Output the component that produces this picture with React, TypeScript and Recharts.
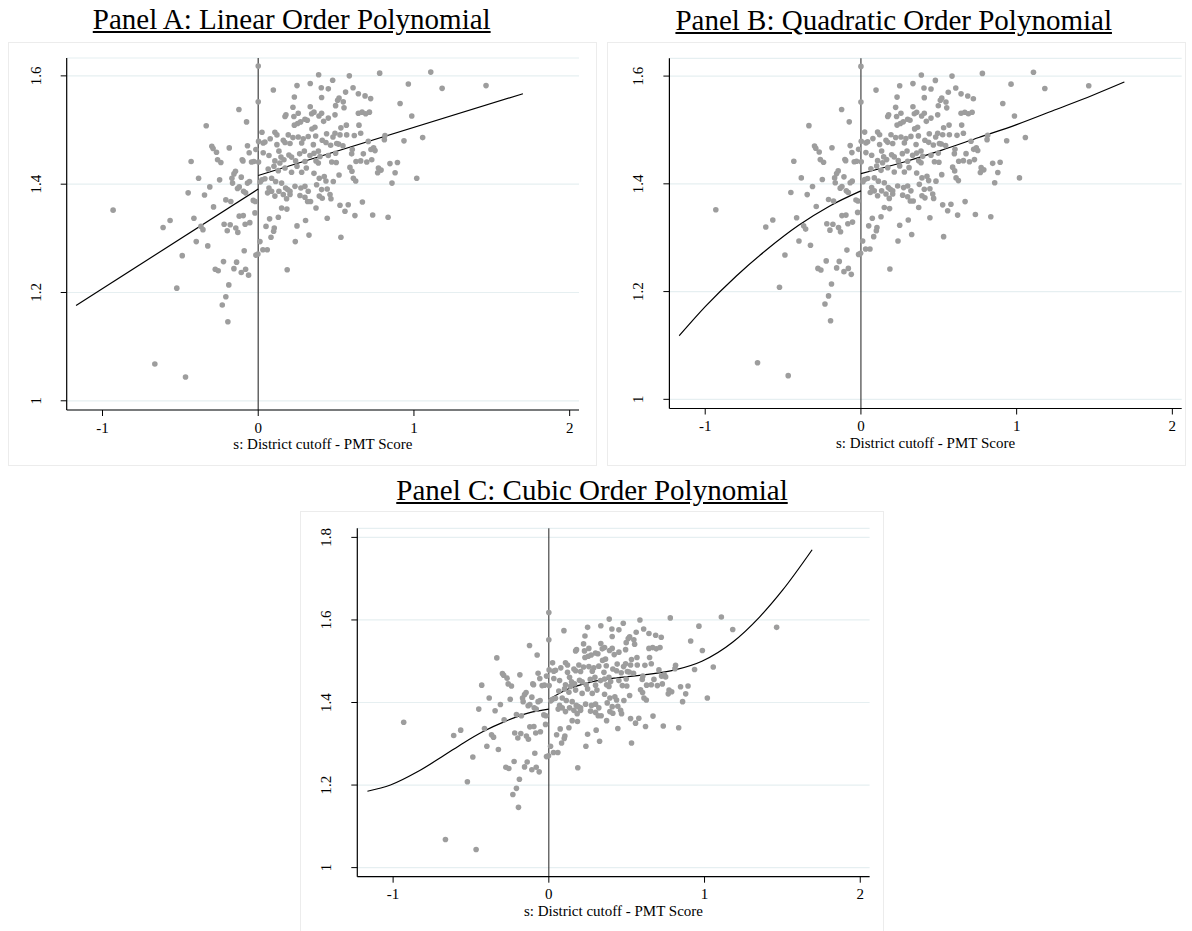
import React from 'react';
import { ComposedChart, Scatter, Line, XAxis, YAxis, CartesianGrid, ReferenceLine } from 'recharts';

type Pt = [number, number];

const FONT = "'Liberation Serif', 'Times New Roman', serif";

// titres et graduations
const panelTitles = [
  'Panel A: Linear Order Polynomial',
  'Panel B: Quadratic Order Polynomial',
  'Panel C: Cubic Order Polynomial',
];
const xTitle = 's: District cutoff - PMT Score';
const xTicks = [-1, 0, 1, 2];
const yTicksAB = [1, 1.2, 1.4, 1.6];
const yTicksC = [1, 1.2, 1.4, 1.6, 1.8];

// nuage de points, à gauche du seuil (s < 0)
const dotsLeft: Pt[] = [
  [-0.124, 1.538], [-0.075, 1.515], [-0.334, 1.508], [-0.298, 1.47], [-0.29, 1.466],
  [-0.186, 1.467], [-0.069, 1.471], [-0.268, 1.459], [-0.058, 1.458], [-0.015, 1.464],
  [-0.431, 1.442], [-0.261, 1.445], [-0.24, 1.44], [-0.103, 1.445], [-0.098, 1.443],
  [-0.043, 1.441], [-0.028, 1.442], [-0.146, 1.424], [-0.156, 1.419], [-0.383, 1.411],
  [-0.248, 1.408], [-0.169, 1.411], [-0.165, 1.402], [-0.109, 1.413], [-0.069, 1.402],
  [-0.056, 1.405], [-0.133, 1.392], [-0.122, 1.395], [-0.094, 1.387], [-0.081, 1.384],
  [-0.311, 1.395], [-0.45, 1.384], [-0.345, 1.38], [-0.208, 1.371], [-0.176, 1.368],
  [-0.032, 1.37], [-0.019, 1.368], [-0.287, 1.358], [-0.021, 1.347], [-0.932, 1.352],
  [-0.122, 1.341], [-0.096, 1.342], [-0.413, 1.337], [-0.566, 1.333], [-0.611, 1.32],
  [-0.219, 1.326], [-0.18, 1.325], [-0.084, 1.326], [-0.054, 1.329], [-0.368, 1.322],
  [-0.355, 1.316], [-0.199, 1.314], [-0.144, 1.319], [-0.131, 1.311], [-0.398, 1.294],
  [-0.324, 1.286], [-0.09, 1.277], [-0.015, 1.269], [-0.002, 1.271], [-0.488, 1.268],
  [-0.223, 1.257], [-0.139, 1.256], [-0.276, 1.243], [-0.257, 1.24], [-0.156, 1.244],
  [-0.109, 1.237], [-0.081, 1.243], [-0.062, 1.232], [-0.523, 1.208], [-0.189, 1.214],
  [-0.208, 1.192], [-0.231, 1.177], [-0.195, 1.146], [-0.664, 1.068], [-0.467, 1.044],
];

// nuage de points, à droite du seuil (s >= 0)
const dotsRight: Pt[] = [
  [0, 1.618], [0, 1.552], [0.024, 1.496], [0.002, 1.479], [0.032, 1.476], [0.002, 1.441],
  [0.032, 1.458], [0.024, 1.408], [0.013, 1.404], [0.011, 1.294], [0.03, 1.279],
  [0.388, 1.602], [0.585, 1.6], [0.78, 1.605], [0.964, 1.585], [0.097, 1.574], [0.249, 1.582],
  [0.334, 1.586], [0.478, 1.592], [0.405, 1.578], [0.45, 1.576], [0.561, 1.57], [0.609, 1.578],
  [0.232, 1.561], [0.407, 1.56], [0.519, 1.559], [0.51, 1.555], [0.643, 1.567], [0.686, 1.563],
  [0.722, 1.558], [0.546, 1.552], [0.551, 1.541], [0.497, 1.545], [0.334, 1.543], [0.223, 1.542],
  [0.172, 1.525], [0.178, 1.528], [0.229, 1.525], [0.257, 1.531], [0.3, 1.52], [0.343, 1.53],
  [0.358, 1.533], [0.39, 1.526], [0.407, 1.531], [0.45, 1.522], [0.493, 1.528], [0.643, 1.531],
  [0.667, 1.533], [0.69, 1.53], [0.714, 1.533], [0.911, 1.549], [0.986, 1.526],
  [0.253, 1.512], [0.272, 1.515], [0.232, 1.509], [0.315, 1.518], [0.364, 1.505], [0.345, 1.502],
  [0.42, 1.516], [0.566, 1.509], [0.531, 1.504], [0.439, 1.493], [0.647, 1.509], [0.107, 1.496],
  [0.12, 1.491], [0.193, 1.491], [0.223, 1.486], [0.257, 1.487], [0.289, 1.484], [0.321, 1.488],
  [0.369, 1.489], [0.411, 1.481], [0.48, 1.487], [0.493, 1.494], [0.525, 1.491], [0.568, 1.491],
  [0.617, 1.49], [0.658, 1.494], [0.707, 1.479], [0.724, 1.464], [0.81, 1.482], [0.814, 1.49],
  [0.936, 1.48], [0.043, 1.478], [0.077, 1.484], [0.161, 1.481], [0.12, 1.473], [0.172, 1.477],
  [0.204, 1.475], [0.279, 1.476], [0.354, 1.473], [0.435, 1.477], [0.504, 1.475], [0.465, 1.472],
  [0.516, 1.474], [0.544, 1.471], [0.604, 1.464], [0.6, 1.456], [0.675, 1.456], [0.75, 1.462],
  [0.741, 1.467], [0.069, 1.453], [0.133, 1.461], [0.146, 1.45], [0.197, 1.454], [0.214, 1.45],
  [0.266, 1.456], [0.296, 1.461], [0.332, 1.453], [0.358, 1.457], [0.386, 1.461], [0.397, 1.451],
  [0.45, 1.453], [0.497, 1.457], [0.107, 1.443], [0.139, 1.439], [0.165, 1.445], [0.24, 1.443],
  [0.3, 1.442], [0.371, 1.443], [0.386, 1.439], [0.472, 1.441], [0.501, 1.44], [0.628, 1.442],
  [0.658, 1.443], [0.697, 1.441], [0.729, 1.445], [0.772, 1.43], [0.789, 1.426], [0.846, 1.438],
  [0.894, 1.44], [0.589, 1.431], [0.602, 1.424], [0.611, 1.411], [0.626, 1.406], [0.064, 1.428],
  [0.101, 1.433], [0.129, 1.425], [0.172, 1.43], [0.214, 1.422], [0.249, 1.433], [0.279, 1.422],
  [0.309, 1.43], [0.358, 1.42], [0.392, 1.411], [0.424, 1.414], [0.435, 1.406], [0.482, 1.405],
  [0.519, 1.417], [0.767, 1.421], [0.879, 1.421], [0.859, 1.402], [0.086, 1.411], [0.112, 1.405],
  [0.043, 1.41], [0.069, 1.393], [0.086, 1.387], [0.15, 1.402], [0.176, 1.393], [0.204, 1.387],
  [0.189, 1.39], [0.133, 1.387], [0.236, 1.396], [0.274, 1.393], [0.3, 1.396], [0.321, 1.387],
  [0.375, 1.399], [0.407, 1.39], [0.443, 1.391], [0.461, 1.381], [0.392, 1.378], [0.411, 1.374],
  [0.06, 1.384], [0.107, 1.378], [0.161, 1.381], [0.182, 1.373], [0.204, 1.381], [0.268, 1.379],
  [0.3, 1.376], [0.317, 1.368], [0.336, 1.368], [0.371, 1.356], [0.467, 1.373], [0.15, 1.356],
  [0.184, 1.354], [0.525, 1.361], [0.669, 1.367], [0.578, 1.362], [0.443, 1.337], [0.557, 1.35],
  [0.621, 1.342], [0.735, 1.343], [0.834, 1.339], [0.073, 1.336], [0.129, 1.339], [0.304, 1.333],
  [0.249, 1.323], [0.103, 1.319], [0.099, 1.313], [0.05, 1.322], [0.082, 1.302], [0.326, 1.306],
  [0.531, 1.302], [0.238, 1.294], [0.058, 1.279], [0.186, 1.242],
  [1.108, 1.607], [1.181, 1.577], [1.463, 1.582], [1.056, 1.486], [1.018, 1.411],
];

// courbes ajustées, lues sur chaque panneau
const linLeft: Pt[] = [[-1.17, 1.176], [0, 1.391]];
const linRight: Pt[] = [[0, 1.416], [1.7, 1.567]];
const quadLeft: Pt[] = [
  [-1.167, 1.118], [-1.0, 1.172], [-0.8, 1.229], [-0.6, 1.279], [-0.4, 1.323],
  [-0.2, 1.359], [0, 1.387],
];
const quadRight: Pt[] = [
  [0, 1.419], [0.272, 1.44], [0.515, 1.462], [0.757, 1.486], [1.0, 1.51],
  [1.243, 1.537], [1.485, 1.564], [1.692, 1.589],
];
const cubicLeft: Pt[] = [
  [-1.165, 1.185], [-1.017, 1.2], [-0.844, 1.232], [-0.672, 1.272], [-0.548, 1.302],
  [-0.425, 1.329], [-0.277, 1.355], [-0.128, 1.375], [0, 1.384],
];
const cubicRight: Pt[] = [
  [0, 1.407], [0.119, 1.432], [0.267, 1.449], [0.44, 1.46], [0.637, 1.468], [0.81, 1.479],
  [0.983, 1.5], [1.18, 1.546], [1.353, 1.607], [1.501, 1.672], [1.691, 1.77],
];

const toRows = (pts: Pt[]) => pts.map(([x, y]) => ({ x, y }));
const allDots = toRows([...dotsLeft, ...dotsRight]);

const dotShape = (p: any) => <circle cx={p.cx} cy={p.cy} r={2.8} fill="#9d9d9d" />;

// étiquettes de l'axe Y tournées à la verticale, comme dans Stata
const YTick = ({ x, y, payload }: any) => {
  const bx = x - 18;
  return (
    <text x={bx} y={y} transform={`rotate(-90 ${bx} ${y})`} textAnchor="middle"
      fontSize={15} fontFamily={FONT} fill="#000">
      {payload.value}
    </text>
  );
};

interface PanelProps {
  box: { left: number; top: number; width: number; height: number };
  margin: { top: number; right: number; bottom: number; left: number };
  yAxisWidth: number;
  yDomain: [number, number];
  yTicks: number[];
  fits: Pt[][];
  curve: 'linear' | 'monotone';
  zeroColor: string;
  zeroWidth: number;
}

const Panel: React.FC<PanelProps> = ({ box, margin, yAxisWidth, yDomain, yTicks, fits, curve, zeroColor, zeroWidth }) => (
  <div style={{ position: 'absolute', left: box.left, top: box.top }}>
    <ComposedChart width={box.width} height={box.height} margin={margin}>
      <CartesianGrid horizontal vertical={false} stroke="#e6eff1" strokeWidth={1.2} />
      <XAxis
        type="number"
        dataKey="x"
        domain={[-1.23, 2.06]}
        ticks={xTicks}
        height={50}
        tickSize={6}
        tickMargin={6}
        tick={{ fill: '#000', fontSize: 15, fontFamily: FONT }}
        axisLine={{ stroke: '#000', strokeWidth: 1.2 }}
        tickLine={{ stroke: '#000' }}
        label={{ value: xTitle, position: 'insideBottom', offset: 11, fill: '#000', fontSize: 15, fontFamily: FONT }}
      />
      <YAxis
        type="number"
        dataKey="y"
        domain={yDomain}
        ticks={yTicks}
        width={yAxisWidth}
        tickSize={6}
        tick={<YTick />}
        axisLine={{ stroke: '#000', strokeWidth: 1.2 }}
        tickLine={{ stroke: '#000' }}
      />
      <ReferenceLine x={0} stroke={zeroColor} strokeWidth={zeroWidth} />
      <Scatter data={allDots} shape={dotShape} isAnimationActive={false} />
      {fits.map((f, i) => (
        <Line key={i} data={toRows(f)} dataKey="y" type={curve} stroke="#000" strokeWidth={1.2}
          dot={false} activeDot={false} isAnimationActive={false} />
      ))}
    </ComposedChart>
  </div>
);

const Title: React.FC<{ text: string; cx: number; top: number }> = ({ text, cx, top }) => (
  <div style={{
    position: 'absolute', left: cx - 300, top, width: 600, textAlign: 'center',
    fontFamily: FONT, fontSize: 29, lineHeight: '29px', color: '#000',
  }}>
    <span style={{ textDecoration: 'underline' }}>{text}</span>
  </div>
);

const Frame: React.FC<{ left: number; top: number; width: number; height: number }> = (p) => (
  <div style={{ position: 'absolute', ...p, border: '1px solid #ececec', boxSizing: 'border-box' }} />
);

export default function App() {
  return (
    <div style={{ position: 'absolute', left: 0, top: 0, width: 1192, height: 931, background: '#fff', overflow: 'hidden' }}>
      <Frame left={8} top={42} width={589} height={424} />
      <Frame left={607} top={42} width={579} height={424} />
      <Frame left={300} top={511} width={584} height={422} />

      <Title text={panelTitles[0]} cx={291.7} top={5} />
      <Title text={panelTitles[1]} cx={893.7} top={5.7} />
      <Title text={panelTitles[2]} cx={592} top={475.7} />

      <Panel
        box={{ left: 0, top: 42, width: 600, height: 424 }}
        margin={{ top: 16, right: 21, bottom: 6, left: 0 }}
        yAxisWidth={66.7}
        yDomain={[0.983, 1.633]}
        yTicks={yTicksAB}
        fits={[linLeft, linRight]}
        curve="linear"
        zeroColor="#5a5a5a"
        zeroWidth={1.4}
      />
      <Panel
        box={{ left: 600, top: 42, width: 592, height: 424 }}
        margin={{ top: 16.3, right: 10.3, bottom: 7.5, left: 0 }}
        yAxisWidth={69.4}
        yDomain={[0.983, 1.633]}
        yTicks={yTicksAB}
        fits={[quadLeft, quadRight]}
        curve="monotone"
        zeroColor="#333"
        zeroWidth={1.1}
      />
      <Panel
        box={{ left: 290, top: 511, width: 600, height: 420 }}
        margin={{ top: 17.3, right: 20.4, bottom: 4.3, left: 0 }}
        yAxisWidth={67.3}
        yDomain={[0.978, 1.822]}
        yTicks={yTicksC}
        fits={[cubicLeft, cubicRight]}
        curve="monotone"
        zeroColor="#222"
        zeroWidth={1}
      />
    </div>
  );
}
